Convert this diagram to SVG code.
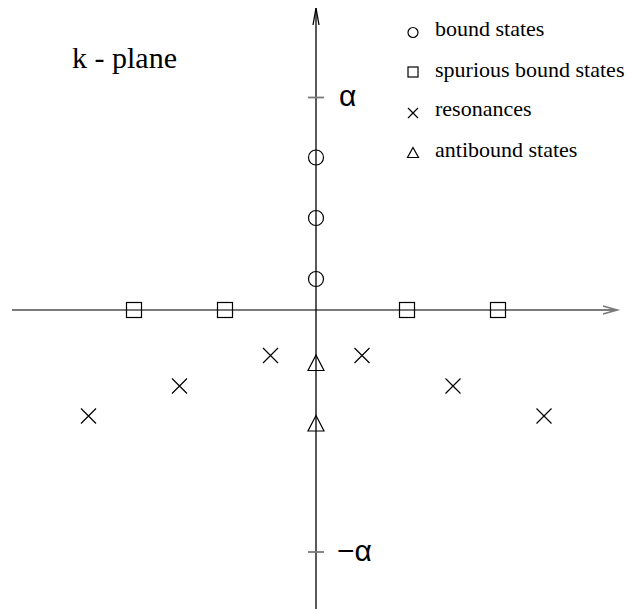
<svg xmlns="http://www.w3.org/2000/svg" width="630" height="609" viewBox="0 0 630 609">
<style>
.ax{stroke:#000;stroke-width:1.3;fill:none}
.axh{stroke:#7a7a7a;stroke-width:1.8;fill:none}
.sym{stroke:#000;stroke-width:1.2;fill:none}
.lg{font-family:"Liberation Serif",serif;font-size:22px;fill:#000}
.gr{font-family:"Liberation Sans",sans-serif;font-size:30px;fill:#000}
</style>
<defs>
<circle id="circ" r="7.5" class="sym"/>
<rect id="sq" x="-7.5" y="-7.5" width="15" height="15" class="sym"/>
<path id="cr" d="M-7.5,-7.5L7.5,7.5M-7.5,7.5L7.5,-7.5" class="sym"/>
<path id="tr" d="M0,-8L8,7.5L-8,7.5Z" class="sym"/>
</defs>
<g id="connectors">
<line id="x-axis" x1="12" y1="310" x2="617" y2="310" class="axh"/>
<path d="M603,306L617,310L603,314" class="axh"/>
<line id="y-axis" x1="316" y1="609" x2="316" y2="8" class="ax"/>
<path d="M313,25L316,8L319,25" class="ax"/>
<line x1="308" y1="97.5" x2="324" y2="97.5" class="axh" stroke-width="1.3"/>
<line x1="308" y1="552" x2="324" y2="552" class="axh" stroke-width="1.3"/>
</g>
<g id="title"><text x="72" y="68" font-family="Liberation Serif, serif" font-size="30">k - plane</text></g>
<g id="alpha-label"><text x="339" y="106" class="gr">α</text></g>
<g id="neg-alpha-label"><text x="337" y="561" class="gr">−α</text></g>
<g id="bound-states">
<use href="#circ" x="316" y="157.5"/>
<use href="#circ" x="316" y="218"/>
<use href="#circ" x="316" y="279"/>
</g>
<g id="spurious-states">
<use href="#sq" x="134" y="310"/>
<use href="#sq" x="225" y="310"/>
<use href="#sq" x="407" y="310"/>
<use href="#sq" x="498" y="310"/>
</g>
<g id="resonances">
<use href="#cr" x="270.5" y="355.5"/>
<use href="#cr" x="179.5" y="386"/>
<use href="#cr" x="88.5" y="416"/>
<use href="#cr" x="362" y="355.5"/>
<use href="#cr" x="453" y="386"/>
<use href="#cr" x="544" y="416"/>
</g>
<g id="antibound-states">
<use href="#tr" x="316" y="363"/>
<use href="#tr" x="316" y="423.5"/>
</g>
<g id="legend">
<circle cx="413" cy="32.5" r="5" class="sym" stroke-width="1"/>
<text x="435" y="36" class="lg">bound states</text>
<rect x="408" y="67" width="10" height="10" class="sym" stroke-width="1"/>
<text x="435" y="77" class="lg">spurious bound states</text>
<path d="M408,108L418,118M408,118L418,108" class="sym" stroke-width="1"/>
<text x="435" y="116" class="lg">resonances</text>
<path d="M413,147.5L418.5,157.5L407.5,157.5Z" class="sym" stroke-width="1"/>
<text x="435" y="157" class="lg">antibound states</text>
</g>
</svg>
